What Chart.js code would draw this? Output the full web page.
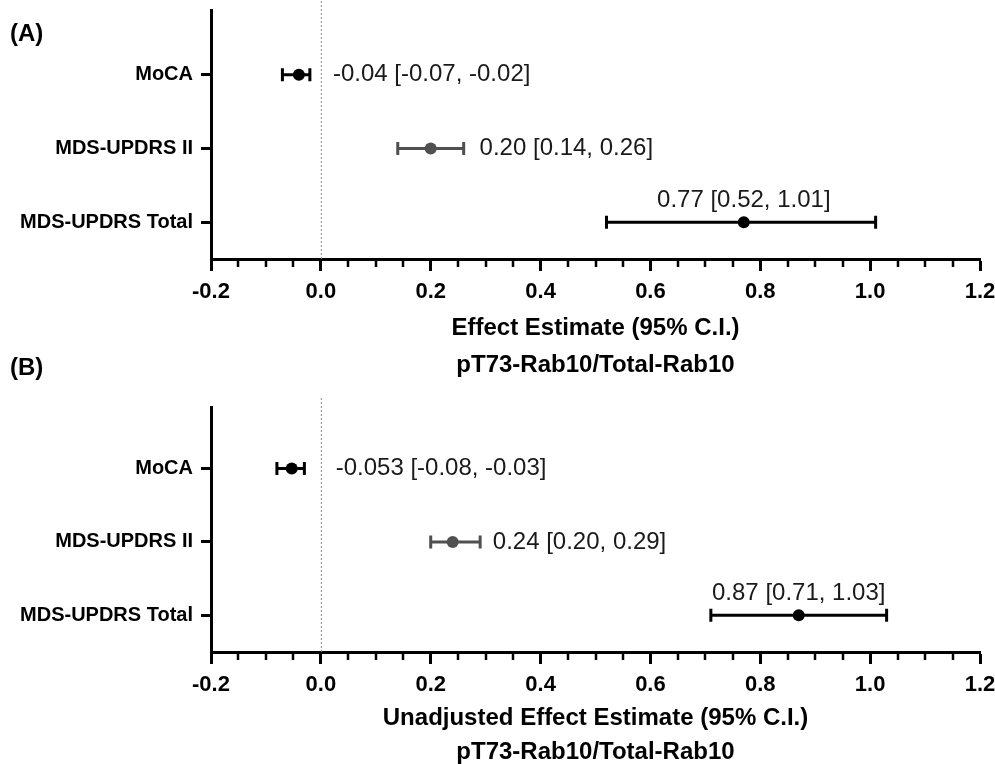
<!DOCTYPE html>
<html>
<head>
<meta charset="utf-8">
<script src="https://cdn.jsdelivr.net/npm/chart.js@4.4.1/dist/chart.umd.min.js"></script>
<style>
  html, body { margin: 0; padding: 0; background: #fff; overflow: hidden; }
  body { width: 995px; height: 764px; position: relative; font-family: "Liberation Sans", Arial, sans-serif; }
  canvas { position: absolute; left: 0; }
  #chartA { top: 0; }
  #chartB { top: 384px; }
  .panel { position: absolute; left: 10px; font-weight: bold; font-size: 24px; line-height: 24px; color: #000; }
</style>
</head>
<body>
<canvas id="chartA" width="995" height="384"></canvas>
<canvas id="chartB" width="995" height="390"></canvas>
<div class="panel" style="top:21px">(A)</div>
<div class="panel" style="top:355px">(B)</div>
<script>
// rows, top to bottom
const categories = ['MoCA', 'MDS-UPDRS II', 'MDS-UPDRS Total'];
const xTicks = [-0.2, 0.0, 0.2, 0.4, 0.6, 0.8, 1.0, 1.2];

// (A) adjusted
const estimateA = [-0.04, 0.20, 0.77];
const lowerA = [-0.07, 0.14, 0.52];
const upperA = [-0.02, 0.26, 1.01];
const labelA = ['-0.04 [-0.07, -0.02]', '0.20 [0.14, 0.26]', '0.77 [0.52, 1.01]'];

// (B) unadjusted
const estimateB = [-0.053, 0.24, 0.87];
const lowerB = [-0.08, 0.20, 0.71];
const upperB = [-0.03, 0.29, 1.03];
const labelB = ['-0.053 [-0.08, -0.03]', '0.24 [0.20, 0.29]', '0.87 [0.71, 1.03]'];

const rowColors = ['#000000', '#505050', '#000000'];
const FONT = '"Liberation Sans", Arial, sans-serif';
const n = categories.length;
const rowPos = categories.map((c, i) => n - i);

// draws zero line, CI bars, minor ticks and the value labels
function forestPlugin(p) {
  return {
    id: 'forest',
    beforeDatasetsDraw(chart) {
      const ctx = chart.ctx, xs = chart.scales.x, ys = chart.scales.y, area = chart.chartArea;
      ctx.save();
      // dotted reference line at 0
      const x0 = xs.getPixelForValue(0);
      ctx.strokeStyle = '#8c8c8c';
      ctx.lineWidth = 1;
      ctx.setLineDash([2, 2]);
      ctx.beginPath();
      ctx.moveTo(x0 + 0.5, area.top - 9);
      ctx.lineTo(x0 + 0.5, area.bottom);
      ctx.stroke();
      ctx.setLineDash([]);
      // confidence interval bars
      p.lower.forEach((lo, i) => {
        const y = ys.getPixelForValue(rowPos[i]);
        const xl = xs.getPixelForValue(lo);
        const xu = xs.getPixelForValue(p.upper[i]);
        ctx.strokeStyle = rowColors[i];
        ctx.lineWidth = 3;
        ctx.beginPath();
        ctx.moveTo(xl, y); ctx.lineTo(xu, y);
        ctx.moveTo(xl, y - 6.5); ctx.lineTo(xl, y + 6.5);
        ctx.moveTo(xu, y - 6.5); ctx.lineTo(xu, y + 6.5);
        ctx.stroke();
      });
      ctx.restore();
    },
    afterDatasetsDraw(chart) {
      const ctx = chart.ctx, xs = chart.scales.x, ys = chart.scales.y;
      ctx.save();
      ctx.font = '24px ' + FONT;
      ctx.fillStyle = '#1a1a1a';
      ctx.textBaseline = 'middle';
      p.labels.forEach((txt, i) => {
        const a = p.anchors[i];
        const y = ys.getPixelForValue(rowPos[i]);
        const x = xs.getPixelForValue(a.x);
        if (a.place === 'above') {
          ctx.textAlign = 'center';
          ctx.fillText(txt, x, y - 22);
        } else {
          ctx.textAlign = 'left';
          ctx.fillText(txt, x, y);
        }
      });
      ctx.restore();
    },
    afterDraw(chart) {
      // minor ticks, three between each pair of labelled ticks
      const ctx = chart.ctx, xs = chart.scales.x, area = chart.chartArea;
      ctx.save();
      ctx.strokeStyle = '#000';
      ctx.lineWidth = 2.5;
      ctx.beginPath();
      for (let t = 0; t < xTicks.length - 1; t++) {
        for (let k = 1; k < 4; k++) {
          const v = xTicks[t] + (xTicks[t + 1] - xTicks[t]) * k / 4;
          const px = Math.round(xs.getPixelForValue(v));
          ctx.moveTo(px, area.bottom);
          ctx.lineTo(px, area.bottom + 8);
        }
      }
      ctx.stroke();
      ctx.restore();
    }
  };
}

function makeChart(id, p) {
  return new Chart(document.getElementById(id), {
    type: 'scatter',
    data: {
      datasets: [{
        data: p.est.map((v, i) => ({ x: v, y: rowPos[i] })),
        pointRadius: 6,
        pointHoverRadius: 6,
        pointBackgroundColor: rowColors,
        pointBorderWidth: 0
      }]
    },
    options: {
      responsive: false,
      animation: false,
      events: [],
      layout: { padding: { top: p.padTop, right: 15, left: 0, bottom: 0 } },
      plugins: { legend: { display: false }, tooltip: { enabled: false } },
      scales: {
        x: {
          type: 'linear',
          min: xTicks[0],
          max: xTicks[xTicks.length - 1],
          afterBuildTicks: s => { s.ticks = xTicks.map(v => ({ value: v })); },
          afterFit: s => { s.height = p.xHeight; s.paddingLeft = 0; s.paddingRight = 0; },
          grid: { drawOnChartArea: false, tickLength: 12, tickWidth: 3, tickColor: '#000' },
          border: { color: '#000', width: 3 },
          ticks: {
            color: '#000',
            padding: 8,
            maxRotation: 0,
            font: { family: FONT, size: 22, weight: 'bold' },
            callback: v => v.toFixed(1)
          },
          title: {
            display: true,
            text: [p.title, 'pT73-Rab10/Total-Rab10'],
            color: '#000',
            font: { family: FONT, size: 24, weight: 'bold', lineHeight: p.titleLH },
            padding: { top: 0, bottom: p.titlePad }
          }
        },
        y: {
          type: 'linear',
          min: 0.5,
          max: p.yMax,
          afterBuildTicks: s => { s.ticks = rowPos.map(v => ({ value: v })); },
          afterFit: s => { s.width = 211; s.paddingTop = 0; s.paddingBottom = 0; },
          grid: { drawOnChartArea: false, tickLength: 10, tickWidth: 3, tickColor: '#000' },
          border: { color: '#000', width: 3 },
          ticks: {
            color: '#000',
            padding: 8,
            font: { family: FONT, size: 20, weight: 'bold' },
            callback: v => categories[n - v]
          }
        }
      }
    },
    plugins: [forestPlugin(p)]
  });
}

makeChart('chartA', {
  est: estimateA, lower: lowerA, upper: upperA, labels: labelA,
  anchors: [{ x: 0.022, place: 'right' }, { x: 0.289, place: 'right' }, { x: estimateA[2], place: 'above' }],
  title: 'Effect Estimate (95% C.I.)',
  padTop: 10, xHeight: 125, yMax: 3.88, titleLH: 1.54, titlePad: 0
});

makeChart('chartB', {
  est: estimateB, lower: lowerB, upper: upperB, labels: labelB,
  anchors: [{ x: 0.027, place: 'right' }, { x: 0.313, place: 'right' }, { x: estimateB[2], place: 'above' }],
  title: 'Unadjusted Effect Estimate (95% C.I.)',
  padTop: 23, xHeight: 122, yMax: 3.84, titleLH: 1.42, titlePad: 5
});
</script>
</body>
</html>
